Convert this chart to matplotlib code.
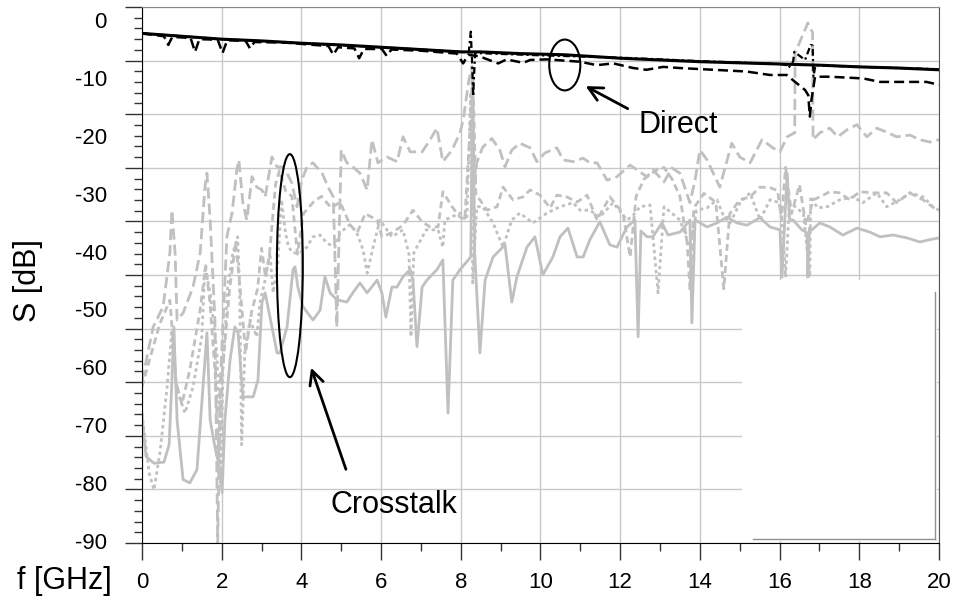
import numpy as np
import matplotlib
matplotlib.use("Agg")
import matplotlib.pyplot as plt
from matplotlib.patches import Ellipse, Rectangle

plt.rcParams['font.family'] = ['Liberation Sans', 'DejaVu Sans']

# direct paths (black)
direct_f = [0, 1, 2, 3, 4, 5, 6, 7, 8, 8.5, 9.5, 10.6, 12, 13, 14, 15, 16, 17, 18, 19, 20]
direct_s = [-1.8, -2.3, -2.8, -3.1, -3.5, -3.8, -4.2, -4.6, -5.0, -5.0, -5.3, -5.5, -6.1, -6.4,
            -6.7, -6.9, -7.1, -7.3, -7.6, -7.8, -8.1]

direct2_f = [0, 0.55, 0.66, 0.76, 1.22, 1.33, 1.44, 1.9, 2.02, 2.14, 2.6, 2.71, 2.82, 3.6,
             4.68, 4.8, 4.92, 5.33, 5.45, 5.57, 6.02, 6.14, 6.26, 7.0, 7.9, 8.06, 8.18,
             8.48, 8.82, 8.94, 9.15, 9.57, 9.74, 10.16, 10.99, 11.41, 11.83, 12.33, 12.66,
             13.08, 13.5, 14.34, 15.17, 15.76, 16.18, 16.39, 16.64, 16.72, 16.76, 16.8,
             16.89, 17.26, 18.1, 18.52, 19.19, 19.69, 20.0]
direct2_s = [-1.8, -2.3, -3.8, -2.4, -2.6, -5.0, -2.8, -2.9, -5.2, -3.0, -3.1, -4.4, -3.3, -3.4,
             -4.0, -5.5, -4.2, -4.4, -6.1, -4.5, -4.5, -5.7, -4.6, -4.8, -5.3, -7.0, -5.5,
             -5.8, -6.7, -7.0, -6.3, -6.9, -6.4, -6.3, -6.7, -7.3, -7.0, -7.8, -8.1,
             -7.6, -7.8, -8.1, -8.4, -9.0, -9.0, -10.2, -11.6, -12.5, -16.2, -13.3,
             -9.3, -9.3, -9.6, -10.2, -10.2, -10.2, -10.7]

direct3_f = [0, 2, 4, 6, 8.0, 8.2, 8.25, 8.28, 8.31, 8.36, 10, 12, 14, 16.0, 16.18, 16.22,
             16.34, 16.37, 16.64, 16.78, 16.83, 16.85, 16.9, 18, 20]
direct3_s = [-1.8, -2.8, -3.5, -4.2, -5.0, -5.1, -1.5, -6.0, -12.7, -5.2, -5.6, -6.0, -6.6,
             -7.1, -7.3, -7.8, -6.7, -5.0, -6.4, -3.8, -3.9, -9.3, -7.3, -7.6, -8.0]

# crosstalk paths (grey)
xt_solid_f = [0.0, 0.1, 0.3, 0.55, 0.68, 0.75, 0.8, 0.88, 1.03, 1.2,
              1.38, 1.53, 1.63, 1.71, 1.83, 1.96, 2.01, 2.08, 2.21, 2.33,
              2.41, 2.53, 2.79, 2.91, 3.01, 3.09, 3.26, 3.39, 3.46, 3.64,
              3.79, 3.84, 3.91, 4.04, 4.29, 4.47, 4.59, 4.72, 4.89, 5.14,
              5.29, 5.47, 5.65, 5.9, 6.02, 6.12, 6.27, 6.4, 6.55, 6.73,
              6.8, 6.9, 7.03, 7.15, 7.4, 7.55, 7.68, 7.8, 7.98, 8.25,
              8.3, 8.35, 8.48, 8.61, 8.81, 9.11, 9.28, 9.41, 9.66, 9.86,
              10.06, 10.31, 10.49, 10.69, 10.92, 11.07, 11.24, 11.49, 11.74, 11.92,
              12.17, 12.37, 12.45, 12.52, 12.67, 12.82, 13.05, 13.2, 13.5, 13.75,
              13.8, 13.88, 14.18, 14.43, 14.68, 14.93, 15.18, 15.51, 15.76, 16.01,
              16.06, 16.19, 16.25, 16.34, 16.56, 16.69, 16.71, 16.75, 16.81, 17.01,
              17.26, 17.59, 17.94, 18.27, 18.52, 18.85, 19.2, 19.52, 19.77, 20.0]
xt_solid_s = [-68, -75, -76.2, -76.0, -73, -62, -52.6, -68.7, -79.0, -79.6,
              -77.3, -63.0, -53.6, -68.7, -73.4, -77.3, -81.3, -68.7, -58.3, -52.6,
              -53.6, -64.7, -64.7, -61.8, -48.4, -46.7, -52.6, -57.1, -57.1, -52.6,
              -42.7, -42.2, -45.7, -49.1, -51.4, -49.7, -43.9, -46.7, -47.9, -48.3,
              -46.7, -45.0, -46.7, -44.5, -46.7, -50.9, -45.7, -45.7, -43.9, -42.7,
              -44.5, -56.0, -45.7, -44.5, -42.7, -41.0, -67.5, -44.5, -42.7, -40.5,
              -8.0, -40.0, -57.1, -44.5, -40.5, -38.4, -48.3, -43.9, -38.8, -37.0,
              -43.6, -40.5, -37.0, -35.5, -40.5, -40.5, -37.5, -34.4, -38.4, -38.8,
              -35.3, -34.1, -54.3, -36.0, -37.0, -37.0, -34.6, -36.7, -36.2, -34.1,
              -51.9, -34.1, -35.3, -34.6, -33.6, -34.6, -35.0, -33.7, -35.3, -35.8,
              -44.0, -26.0, -34.0, -34.1, -35.8, -36.3, -44.0, -35.5, -35.8, -34.6,
              -35.3, -36.7, -35.5, -36.2, -37.0, -36.7, -37.2, -37.9, -37.5, -37.2]

xt_long_f = [0.0, 0.28, 0.53, 0.7, 0.75, 0.83, 0.88, 1.03, 1.28, 1.46,
             1.58, 1.63, 1.71, 1.83, 1.9, 1.96, 2.13, 2.26, 2.38, 2.43,
             2.53, 2.63, 2.76, 2.88, 3.01, 3.09, 3.26, 3.39, 3.51, 3.64,
             3.76, 3.89, 4.01, 4.14, 4.29, 4.52, 4.67, 4.8, 4.89, 5.0,
             5.14, 5.29, 5.47, 5.65, 5.77, 5.92, 6.15, 6.4, 6.55, 6.73,
             7.03, 7.23, 7.4, 7.55, 7.78, 7.98, 8.06, 8.2, 8.28, 8.32,
             8.4, 8.55, 8.78, 8.98, 9.11, 9.28, 9.48, 9.74, 9.91, 10.11,
             10.41, 10.57, 10.82, 11.07, 11.24, 11.42, 11.67, 11.92, 12.25, 12.67,
             12.82, 13.1, 13.3, 13.5, 13.75, 13.88, 14.0, 14.18, 14.5, 14.8,
             15.0, 15.26, 15.56, 15.83, 16.01, 16.19, 16.38, 16.39, 16.71, 16.83,
             16.84, 17.01, 17.26, 17.46, 17.69, 17.94, 18.19, 18.44, 18.69, 18.94,
             19.27, 19.52, 19.77, 20.0]
xt_long_s = [-62, -52.6, -49.1, -39.8, -32.4, -39.8, -51.4, -50.2, -45.7, -39.8,
             -28.4, -26.0, -34.1, -51.4, -90, -63, -37.0, -32.9, -25.4, -23.7,
             -31.1, -34.1, -26.6, -28.4, -28.9, -30.1, -23.2, -24.9, -24.9, -26.0,
             -27.7, -31.8, -27.2, -24.9, -24.2, -26.0, -28.4, -30.1, -52.6, -22.0,
             -24.2, -24.9, -26.0, -28.9, -20.2, -24.2, -23.2, -24.0, -19.7, -22.3,
             -22.3, -20.2, -18.2, -24.0, -22.0, -19.0, -16.8, -10.0, -7.5, -30.0,
             -24.2, -21.5, -20.0, -22.0, -24.9, -22.0, -20.8, -21.6, -24.0, -22.5,
             -21.6, -23.7, -24.0, -23.4, -24.2, -24.2, -27.2, -26.6, -24.6, -26.6,
             -25.4, -27.5, -25.1, -26.0, -31.1, -27.2, -22.0, -23.7, -28.4, -20.8,
             -23.2, -24.2, -20.2, -21.6, -22.3, -19.7, -19.0, -5.2, 0.0, -1.7,
             -20.2, -19.0, -18.2, -19.7, -18.5, -17.6, -19.7, -18.2, -18.9, -19.7,
             -19.4, -20.2, -20.6, -20.2]

xt_dash_f = [0.0, 0.2, 0.45, 0.7, 0.78, 0.85, 1.0, 1.2, 1.45, 1.6,
             1.7, 1.83, 1.93, 2.02, 2.2, 2.35, 2.45, 2.6, 2.75, 2.9,
             3.0, 3.1, 3.2, 3.35, 3.45, 3.6, 3.76, 3.9, 4.05, 4.3,
             4.5, 4.75, 4.97, 5.22, 5.4, 5.6, 5.9, 6.02, 6.27, 6.55,
             6.8, 7.03, 7.23, 7.43, 7.55, 7.78, 7.98, 8.1, 8.22, 8.3,
             8.38, 8.48, 8.66, 8.91, 9.06, 9.31, 9.56, 9.74, 9.99, 10.24,
             10.41, 10.66, 10.92, 11.17, 11.42, 11.74, 12.07, 12.25, 12.4, 12.6,
             12.9, 13.1, 13.3, 13.5, 13.68, 13.75, 13.85, 14.1, 14.4, 14.6,
             14.75, 15.0, 15.26, 15.51, 15.76, 15.95, 16.05, 16.15, 16.3, 16.5,
             16.66, 16.85, 17.01, 17.26, 17.51, 17.76, 18.01, 18.34, 18.69, 18.94,
             19.27, 19.6, 19.95]
xt_dash_s = [-63, -58, -52, -48, -55, -62, -66, -60, -50, -42,
             -48, -60, -75, -60, -46, -38, -45, -57, -50, -46,
             -39, -44, -40, -28, -25.5, -29, -30, -40, -33, -31,
             -30, -32, -31, -34.9, -36.3, -33, -34.1, -37, -36.3, -35,
             -32.4, -34.4, -35.3, -35.3, -29.2, -31.8, -33.6, -34.0, -20.0, -8.0,
             -30.0, -30.6, -32.4, -31.8, -28.4, -30.6, -30.1, -28.9, -29.8, -32.0,
             -29.8, -30.1, -31.0, -29.8, -34.1, -30.1, -32.9, -40.5, -30.0, -27.0,
             -25.5, -25.0, -27.0, -30.0, -38.0, -46.0, -32.0, -29.5, -31.0, -46.0,
             -33.0, -30.6, -30.1, -28.4, -28.5, -29.0, -34.0, -25.0, -33.0, -28.0,
             -35.0, -30.6, -30.1, -29.2, -29.4, -30.6, -29.2, -29.4, -29.4, -31.1,
             -29.4, -30.6, -32.4]

xt_dot_f = [0.0, 0.18, 0.3, 0.45, 0.63, 0.75, 0.78, 0.9, 1.08, 1.28,
            1.5, 1.58, 1.71, 1.88, 1.93, 1.98, 2.03, 2.15, 2.28, 2.4,
            2.45, 2.5, 2.58, 2.71, 2.88, 2.96, 3.09, 3.21, 3.29, 3.41,
            3.5, 3.6, 3.68, 3.79, 3.96, 4.14, 4.29, 4.47, 4.64, 4.84,
            4.97, 5.22, 5.39, 5.55, 5.65, 5.8, 5.97, 6.27, 6.55, 6.7,
            6.75, 6.82, 7.13, 7.43, 7.55, 7.6, 7.98, 8.15, 8.25, 8.3,
            8.4, 8.55, 8.81, 9.06, 9.28, 9.48, 9.81, 10.16, 10.49, 10.82,
            10.99, 11.24, 11.49, 11.82, 12.17, 12.3, 12.5, 12.75, 12.95, 13.1,
            13.5, 13.75, 13.92, 14.18, 14.43, 14.6, 14.76, 15.01, 15.26, 15.51,
            15.76, 16.0, 16.08, 16.15, 16.25, 16.6, 16.76, 16.78, 16.95, 17.2,
            17.51, 17.84, 18.09, 18.44, 18.69, 19.02, 19.27, 19.6, 19.85, 20.0]
xt_dot_s = [-67.5, -77.9, -80.8, -74.4, -63, -53.1, -58.3, -64, -67.5, -63,
            -54.3, -42.2, -46.7, -57.1, -67.5, -80.0, -60, -45.7, -39.8, -37.0,
            -45.7, -73.0, -57.1, -51.4, -54.3, -48.4, -44.5, -39.8, -46.7, -41.5,
            -30.6, -36.3, -38.8, -39.8, -39.8, -38.8, -37.0, -36.7, -38.1, -38.8,
            -36.3, -34.9, -36.3, -39.3, -43.3, -38.8, -34.1, -37.0, -35.8, -40.0,
            -54.3, -39.8, -35.8, -35.8, -38.8, -34.1, -32.9, -34.1, -12.0, -45.0,
            -31.8, -31.8, -34.6, -38.8, -34.1, -32.9, -34.6, -32.9, -31.8, -31.1,
            -32.4, -32.4, -33.6, -31.1, -34.1, -33.5, -31.8, -31.5, -46.7, -31.8,
            -34.1, -38.8, -32.4, -32.0, -30.6, -33.5, -34.6, -31.1, -29.4, -34.1,
            -30.6, -31.1, -36.0, -44.0, -31.0, -33.0, -44.0, -30.0, -32.0, -31.8,
            -30.6, -30.1, -31.1, -29.4, -31.8, -30.6, -29.4, -30.1, -31.8, -32.4]

x_ticks = [0, 2, 4, 6, 8, 10, 12, 14, 16, 18, 20]
y_labels = [0, -10, -20, -30, -40, -50, -60, -70, -80, -90]

grey = '#c0c0c0'

fig = plt.figure(figsize=(9.55, 5.96), dpi=100)
ax = fig.add_axes([0.1487, 0.0889, 0.8345, 0.8994])

ax.plot(xt_solid_f, xt_solid_s, color=grey, lw=2.0, zorder=2)
ax.plot(xt_long_f, xt_long_s, color=grey, lw=2.0, dashes=(4, 1.8), zorder=2)
ax.plot(xt_dash_f, xt_dash_s, color=grey, lw=2.0, dashes=(2.5, 1.5), zorder=2)
ax.plot(xt_dot_f, xt_dot_s, color=grey, lw=2.0, dashes=(1.2, 1.2), zorder=2)

ax.plot(direct_f, direct_s, color='black', lw=2.2, zorder=3)
ax.plot(direct2_f, direct2_s, color='black', lw=1.8, dashes=(4, 2), zorder=3)
ax.plot(direct3_f, direct3_s, color='black', lw=1.6, dashes=(3, 1.5, 1, 1.5), zorder=3)

ax.set_xlim(0, 20)
ax.set_ylim(-90, 2.77)

# grid divides the plot in 10 equal rows, labels are on the dB scale
grid_y = np.linspace(-90, 2.77, 11)
ax.set_yticks(grid_y)
ax.set_yticklabels([])
ax.set_yticks(np.linspace(-90, 2.77, 51), minor=True)
ax.set_xticks(x_ticks)
ax.set_xticklabels([str(v) for v in x_ticks], fontsize=16)
ax.set_xticks(range(1, 20, 2), minor=True)
ax.tick_params(which='major', length=12, width=1, direction='out', color='#333333')
ax.tick_params(which='minor', length=6, width=1, direction='out', color='#333333')
ax.tick_params(axis='x', which='major', pad=9)
ax.grid(True, which='major', color='#c8c8c8', lw=1)
ax.set_axisbelow(True)

for v in y_labels:
    ax.text(-0.044, v, str(v), transform=ax.get_yaxis_transform(),
            ha='right', va='center', fontsize=16)

ax.spines['top'].set_color('#888888')
ax.spines['right'].set_color('#555555')

# blank box in lower right corner
ax.add_patch(Rectangle((15.06, -89.6), 4.89, 45.1, facecolor='white',
                       edgecolor='none', zorder=5))
ax.plot([15.33, 19.9], [-89.3, -89.3], color='#909090', lw=1, zorder=6)
ax.plot([19.9, 19.9], [-89.3, -46.5], color='#909090', lw=1, zorder=6)

# annotations
ax.add_patch(Ellipse((10.61, -7.27), 0.78, 8.8, fill=False, ec='black', lw=1.5, zorder=7))
ax.annotate('', xy=(11.07, -10.7), xytext=(12.25, -15.05),
            arrowprops=dict(arrowstyle='->', lw=2, color='black', mutation_scale=25), zorder=7)
ax.text(12.47, -19.0, 'Direct', fontsize=22, ha='left', va='baseline', zorder=7)

ax.add_patch(Ellipse((3.71, -42.0), 0.65, 38.6, fill=False, ec='black', lw=1.5, zorder=7))
ax.annotate('', xy=(4.22, -59.2), xytext=(5.14, -77.7),
            arrowprops=dict(arrowstyle='->', lw=2, color='black', mutation_scale=25), zorder=7)
ax.text(4.72, -84.8, 'Crosstalk', fontsize=22, ha='left', va='baseline', zorder=7)

fig.text(0.018, 0.025, 'f [GHz]', fontsize=22, ha='left', va='center')
fig.text(0.029, 0.53, 'S [dB]', fontsize=22, rotation=90, ha='center', va='center')

fig.savefig('out.png', dpi=100)
